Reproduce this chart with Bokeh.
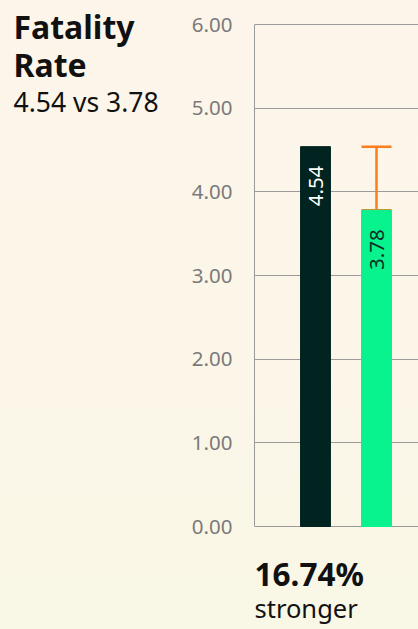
from bokeh.plotting import figure
from bokeh.layouts import row
from bokeh.models import (ColumnDataSource, Range1d, Label, Whisker, TeeHead, FixedTicker,
                          PrintfTickFormatter)
from bokeh.embed import file_html
from bokeh.resources import INLINE
from bokeh.core.properties import value

# ---- data ----
metric_lines = ["Fatality", "Rate"]
groups = ["Group A", "Group B"]
values = [4.54, 3.78]
bar_colors = ["#022420", "#08f28e"]
label_colors = ["#ffffff", "#0b2e24"]
y_ticks = [0, 1, 2, 3, 4, 5, 6]
diff_pct = "16.74%"
diff_word = "stronger"

FONT = "Noto Sans"
H = 629
LEFT_W = 175
RIGHT_W = 418 - LEFT_W
AXIS_W = 254 - LEFT_W
Y0_PX, Y6_PX = 526, 24          # page rows of the 0 and 6 gridlines
YPX = (Y0_PX - Y6_PX) / 6.0     # pixels per y unit
PX = 61.0                       # pixels per x unit
BASE_FIX = 11                   # label baseline correction (px)


def lab(f, text, x, y, size, bold=False, color="#111111"):
    f.add_layout(Label(x=x, y=y, text=text, text_font=FONT, text_font_size=size,
                       text_font_style="bold" if bold else "normal",
                       text_color=color, text_baseline="alphabetic", text_align="left"))


# ---- left text panel (title) ----
t = figure(width=LEFT_W, height=H, output_backend="svg", toolbar_location=None,
           x_range=Range1d(0, LEFT_W), y_range=Range1d(0, H),
           min_border=0, background_fill_color=None, border_fill_color=None,
           outline_line_color=None)
t.axis.visible = False
t.grid.visible = False
lab(t, metric_lines[0], 13, H - 37 + BASE_FIX, "32px", True)
lab(t, metric_lines[1], 13, H - 75 + BASE_FIX, "32px", True)
lab(t, f"{values[0]:.2f} vs {values[1]:.2f}", 13, H - 112 + BASE_FIX, "26.5px")

# ---- chart ----
xs = [i + 1 for i in range(len(values))]
src = ColumnDataSource(dict(x=xs, top=values, color=bar_colors,
                            label=[f"{v:.2f}" for v in values], lcolor=label_colors))

p = figure(width=RIGHT_W, height=H, output_backend="svg", toolbar_location=None,
           x_range=Range1d(0, (RIGHT_W - AXIS_W) / PX),
           y_range=Range1d(-(H - Y0_PX) / YPX, 6 + Y6_PX / YPX),
           min_border_left=AXIS_W, min_border_right=0, min_border_top=0, min_border_bottom=0,
           background_fill_color=None, border_fill_color=None, outline_line_color=None)

p.vbar(x="x", top="top", width=0.49, color="color", source=src)

err = ColumnDataSource(dict(base=[xs[1]], lower=[values[1]], upper=[values[0]]))
orange = "#fb7d1c"
w = Whisker(source=err, base="base", lower="lower", upper="upper", dimension="height",
            line_color=orange, line_width=2.5,
            upper_head=TeeHead(size=30, line_color=orange, line_width=2.5),
            lower_head=TeeHead(size=30, line_color=orange, line_width=2.5))
p.add_layout(w)

p.text(x="x", y="top", text="label", angle=1.5708, text_align="right", text_baseline="middle",
       y_offset=19, text_color="lcolor", text_font=value(FONT), text_font_size="20.5px", source=src)

p.xaxis.visible = False
p.xgrid.visible = False
p.ygrid.grid_line_color = "#9a9a9a"
p.ygrid.grid_line_width = 1
p.yaxis.ticker = FixedTicker(ticks=y_ticks)
p.yaxis.bounds = (y_ticks[0], y_ticks[-1])
p.yaxis.formatter = PrintfTickFormatter(format="%.2f")
p.yaxis.axis_line_color = "#9a9a9a"
p.yaxis.major_tick_line_color = None
p.yaxis.minor_tick_line_color = None
p.yaxis.major_tick_out = 0
p.yaxis.major_label_standoff = 22
p.yaxis.major_label_text_font = FONT
p.yaxis.major_label_text_font_size = "20.5px"
p.yaxis.major_label_text_color = "#7a7a7a"

# ---- texts under the chart ----
lab(p, diff_pct, 0, (Y0_PX - 584 + BASE_FIX) / YPX, "31.5px", True)
lab(p, diff_word, 0, (Y0_PX - 618 + BASE_FIX) / YPX, "25.5px")

layout = row(t, p, spacing=0)
html = file_html(layout, INLINE)
html = html.replace("<head>", "<head><style>html,body{background:linear-gradient(180deg,#fdf5ea 0%,#fcf6e9 50%,#f9f7e6 100%);min-height:100%;}</style>", 1)
open("out.html", "w").write(html)
